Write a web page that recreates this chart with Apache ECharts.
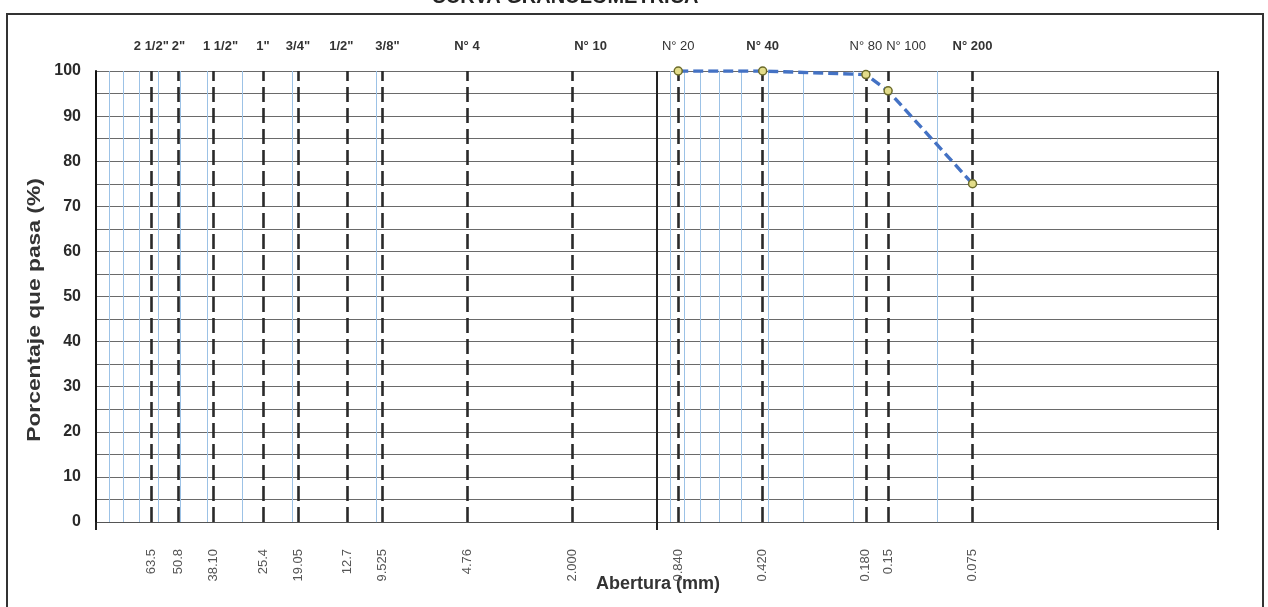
<!DOCTYPE html>
<html><head><meta charset="utf-8">
<script src="https://cdn.jsdelivr.net/npm/echarts@6/dist/echarts.min.js"></script>
<style>html,body{margin:0;padding:0;background:#fff}#c{width:1268px;height:607px}</style>
</head><body><div id="c"></div>
<script>
// ---- data ----
const sieveSizes = [63.5, 50.8, 38.1, 25.4, 19.05, 12.7, 9.525, 4.76, 2.0, 0.84, 0.42, 0.18, 0.15, 0.075];
const sieveNames = ['2 1/2"', '2"', '1 1/2"', '1"', '3/4"', '1/2"', '3/8"', 'N° 4', 'N° 10', 'N° 20', 'N° 40', 'N° 80', 'N° 100', 'N° 200'];
const sizeLabels = ['63.5', '50.8', '38.10', '25.4', '19.05', '12.7', '9.525', '4.76', '2.000', '0.840', '0.420', '0.180', '0.15', '0.075'];
const testSizes = [0.84, 0.42, 0.18, 0.15, 0.075];
const passing = [100, 100, 99.2, 95.6, 75.0];
const minorGrid = [90, 80, 70, 60, 50, 40, 30, 20, 10, 0.9, 0.8, 0.7, 0.6, 0.5, 0.4, 0.3, 0.2, 0.1];
const majorGrid = [1, 0.01];
const majorTicks = [100, 1, 0.01];
const lightNames = ['N° 20', 'N° 80', 'N° 100'];
// label style keys (shift of a few top labels, as printed)
const nameStyle = { '1 1/2"': 'r7', '1/2"': 'l6', '3/8"': 'r5', 'N° 10': 'r18', 'N° 100': 'nr18' };

const FONT = '"Liberation Sans", Arial, sans-serif';

function nearestIndex(v) {
  let best = 0, bd = Infinity;
  sieveSizes.forEach((s, i) => { const d = Math.abs(Math.log(v / s)); if (d < bd) { bd = d; best = i; } });
  return best;
}

const chart = echarts.init(document.getElementById('c'), null, { renderer: 'canvas' });

const markData = [];
minorGrid.forEach(v => markData.push({ xAxis: v, lineStyle: { color: '#9cc2e6', width: 1, type: 'solid' } }));
majorGrid.forEach(v => markData.push({ xAxis: v, lineStyle: { color: '#222', width: 2, type: 'solid' } }));
sieveSizes.forEach(v => markData.push({ xAxis: v, lineStyle: { color: '#2a2a2a', width: 2.6, type: [15, 6] } }));

const topBase = { fontSize: 13, fontWeight: 'bold', color: '#333', fontFamily: FONT };
const topLight = Object.assign({}, topBase, { fontWeight: 'normal' });

const option = {
  animation: false,
  backgroundColor: '#fff',
  grid: { left: 96, right: 50, top: 71, bottom: 85 },
  xAxis: [
    {
      type: 'log', logBase: 10, min: 0.01, max: 100, inverse: true, position: 'bottom',
      nameMoveOverlap: false,
      axisLine: { show: true, onZero: false, lineStyle: { color: '#555', width: 1 } },
      axisTick: { show: true, customValues: majorTicks, length: 8, inside: false, lineStyle: { color: '#222', width: 2 } },
      axisLabel: {
        customValues: sieveSizes, rotate: 90, margin: 27, fontSize: 13, color: '#555', fontFamily: FONT,
        formatter: v => sizeLabels[nearestIndex(v)]
      },
      splitLine: { show: false }, minorTick: { show: false }, minorSplitLine: { show: false }
    },
    {
      type: 'log', logBase: 10, min: 0.01, max: 100, inverse: true, position: 'top',
      axisLine: { show: false }, axisTick: { show: false }, splitLine: { show: false },
      axisLabel: {
        customValues: sieveSizes, margin: 18,
        formatter: v => {
          const n = sieveNames[nearestIndex(v)];
          const k = nameStyle[n] || (lightNames.indexOf(n) >= 0 ? 'n' : 'b');
          return '{' + k + '|' + n + '}';
        },
        rich: {
          b: topBase,
          n: topLight,
          r7: Object.assign({}, topBase, { padding: [0, 0, 0, 14] }),
          r5: Object.assign({}, topBase, { padding: [0, 0, 0, 10] }),
          l6: Object.assign({}, topBase, { padding: [0, 12, 0, 0] }),
          r18: Object.assign({}, topBase, { padding: [0, 0, 0, 36] }),
          nr18: Object.assign({}, topLight, { padding: [0, 0, 0, 36] })
        }
      }
    }
  ],
  yAxis: {
    type: 'value', min: 0, max: 100, interval: 10,
    axisLine: { show: true, lineStyle: { color: '#111', width: 2 } },
    axisTick: { show: false },
    axisLabel: { fontSize: 16, fontWeight: 'bold', color: '#2a2a2a', margin: 15, fontFamily: FONT },
    splitLine: { lineStyle: { color: '#6a6a6a', width: 1 } },
    minorTick: { show: false, splitNumber: 2 },
    minorSplitLine: { show: true, lineStyle: { color: '#6a6a6a', width: 1 } }
  },
  series: [
    {
      type: 'line', z: 1, silent: true, symbol: 'none',
      data: [[0.05, 50]], lineStyle: { opacity: 0 },
      markLine: { silent: true, precision: 6, symbol: ['none', 'none'], label: { show: false }, animation: false, data: markData }
    },
    {
      type: 'line', z: 5,
      data: testSizes.map((s, i) => [s, passing[i]]),
      lineStyle: { color: '#4472c4', width: 3.4, type: [10, 5] },
      symbol: 'circle', symbolSize: 8,
      itemStyle: { color: '#e3dd8a', borderColor: '#6b6b2a', borderWidth: 1.5 }
    }
  ],
  graphic: [
    { type: 'rect', silent: true, z: 0, shape: { x: 7, y: 14, width: 1256, height: 640 }, style: { fill: 'none', stroke: '#333', lineWidth: 2 } },
    { type: 'text', silent: true, x: 565, y: 7, style: { text: 'CURVA GRANULOMETRICA', fontSize: 20, fontWeight: 'bold', fill: '#222', fontFamily: FONT, align: 'center', verticalAlign: 'bottom' } },
    { type: 'text', silent: true, x: 658, y: 584, style: { text: 'Abertura (mm)', fontSize: 18, fontWeight: 'bold', fill: '#333', fontFamily: FONT, align: 'center', verticalAlign: 'middle' } },
    { type: 'text', silent: true, x: 35, y: 310, rotation: Math.PI / 2, scaleX: 1.2, style: { text: 'Porcentaje que pasa (%)', fontSize: 19, fontWeight: 'bold', fill: '#333', fontFamily: FONT, align: 'center', verticalAlign: 'middle' } }
  ]
};
chart.setOption(option);
</script>
</body></html>
